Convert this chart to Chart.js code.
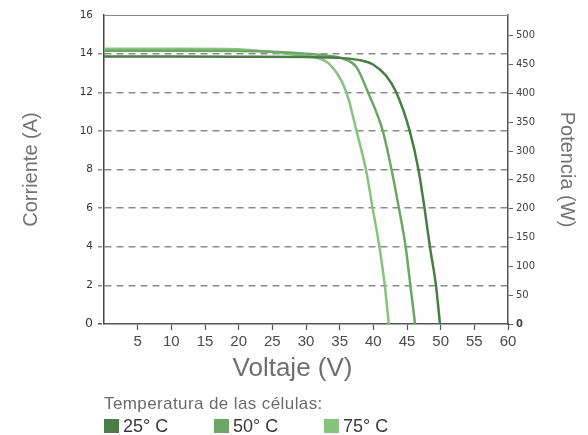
<!DOCTYPE html>
<html>
<head>
<meta charset="utf-8">
<script src="https://cdn.jsdelivr.net/npm/chart.js@4.4.1/dist/chart.umd.min.js"></script>
<style>
  html, body { margin: 0; padding: 0; background: #fff; }
  #wrap { position: relative; width: 588px; height: 435px; overflow: hidden; }
  #c { position: absolute; left: 0; top: 0; }
  #legend { position: absolute; left: 104px; top: 394px; width: 400px; font-family: "Liberation Sans", Arial, sans-serif; white-space: nowrap; }
  #legend .head { font-size: 17px; letter-spacing: 0.4px; color: #6b6b6b; line-height: 20px; }
  #legend .items { position: relative; height: 20px; margin-top: 2px; }
  #legend .item { position: absolute; top: 0; display: flex; align-items: center; font-size: 18px; color: #3a3a3a; line-height: 20px; white-space: nowrap; }
  #legend .sw { width: 15px; height: 14px; margin-right: 4px; }
</style>
</head>
<body>
<div id="wrap">
  <canvas id="c" width="588" height="435"></canvas>
  <div id="legend"></div>
</div>
<script>
// ---- data ----
const seriesLabels = ["25° C", "50° C", "75° C"];
const legendTitle = "Temperatura de las células:";
const xTitle = "Voltaje (V)";

const volt25 = [0, 10, 20, 30, 35, 38.4, 39.9, 41.9, 43.4, 45.4, 46.7, 47.6, 48.4, 49.3, 49.9];
const curr25 = [13.85, 13.85, 13.84, 13.82, 13.78, 13.63, 13.45, 12.85, 12.0, 10.0, 8.0, 6.0, 4.0, 2.0, 0];

const volt50 = [0, 10, 20, 25, 30, 33, 35.4, 37.5, 39.2, 41.4, 42.7, 43.8, 44.8, 45.5, 46.2];
const curr50 = [14.15, 14.15, 14.14, 14.1, 14.0, 13.9, 13.75, 13.3, 12.0, 10.0, 8.0, 6.0, 4.0, 2.0, 0];

const volt75 = [0, 10, 18, 22, 26, 29, 31.5, 33.5, 36, 37.5, 38.9, 39.9, 40.9, 41.7, 42.3];
const curr75 = [14.25, 14.25, 14.24, 14.18, 14.05, 13.92, 13.8, 13.45, 12.0, 10.0, 8.0, 6.0, 4.0, 2.0, 0];

const xTicks = [5, 10, 15, 20, 25, 30, 35, 40, 45, 50, 55, 60];
const leftTicks = [0, 2, 4, 6, 8, 10, 12, 14, 16];
const rightTicks = [0, 50, 100, 150, 200, 250, 300, 350, 400, 450, 500];

const colors = ["#4b7c46", "#6ea667", "#86c47e"];

// ---- build ----
function pts(v, c) { return v.map((x, i) => ({ x: x, y: c[i] })); }
const seriesData = [pts(volt25, curr25), pts(volt50, curr50), pts(volt75, curr75)];

const datasets = seriesData.map((d, i) => ({
  label: seriesLabels[i],
  data: d,
  borderColor: colors[i],
  backgroundColor: colors[i],
  borderWidth: 2.5,
  pointRadius: 0,
  fill: false,
  cubicInterpolationMode: 'monotone',
  yAxisID: 'y'
}));

const framePlugin = {
  id: 'frame',
  afterDatasetsDraw(chart) {
    const a = chart.chartArea, ctx = chart.ctx;
    ctx.save();
    ctx.strokeStyle = '#8a8a8a';
    ctx.lineWidth = 1;
    ctx.beginPath();
    ctx.moveTo(a.left, a.top + 0.5);
    ctx.lineTo(a.right, a.top + 0.5);
    ctx.stroke();
    ctx.restore();
  },
  afterDraw(chart) {
    // x axis title, centred on the canvas like the reference
    const ctx = chart.ctx;
    ctx.save();
    ctx.fillStyle = '#6f6f6f';
    ctx.font = '26px "Liberation Sans"';
    ctx.textAlign = 'center';
    ctx.textBaseline = 'middle';
    ctx.fillText(xTitle, 292.5, 369);
    ctx.restore();
  }
};

const GRID = '#8c8c8c';
const NONE = 'rgba(0,0,0,0)';

new Chart(document.getElementById('c'), {
  type: 'line',
  data: { datasets: datasets },
  plugins: [framePlugin],
  options: {
    responsive: false,
    animation: false,
    layout: { padding: { left: 0, right: 0, top: 15, bottom: 0 } },
    plugins: { legend: { display: false }, tooltip: { enabled: false } },
    scales: {
      x: {
        type: 'linear',
        min: 0, max: 60,
        afterFit(s) { s.height = 111; },
        afterBuildTicks(s) { s.ticks = xTicks.map(v => ({ value: v })); },
        ticks: { color: '#4a4a4a', padding: 3, font: { family: 'Liberation Sans', size: 15 } },
        grid: { drawOnChartArea: false, drawTicks: true, tickLength: 6, tickColor: '#555', tickWidth: 1.2 },
        border: { display: true, color: '#555', width: 1.5 },
        title: { display: false, text: xTitle }
      },
      y: {
        position: 'left',
        min: 0, max: 16,
        afterFit(s) { s.width = 104; },
        afterBuildTicks(s) { s.ticks = leftTicks.map(v => ({ value: v })); },
        ticks: {
          color: '#333', padding: 5,
          font: (ctx) => ctx.tick && ctx.tick.value === 0 ? { family: 'DejaVu Sans', size: 12.5 } : { family: 'DejaVu Sans', size: 10.5 }
        },
        grid: {
          color: (ctx) => (ctx.tick && (ctx.tick.value === 0 || ctx.tick.value === 16)) ? NONE : GRID,
          tickColor: (ctx) => (ctx.tick && ctx.tick.value === 16) ? NONE : (ctx.tick && ctx.tick.value === 0 ? '#555' : GRID),
          lineWidth: 1.5,
          tickWidth: 1.5,
          tickBorderDash: [4, 4],
          drawTicks: true, tickLength: 6
        },
        border: { display: true, color: '#444', width: 1.5, dash: [7, 5] },
        title: { display: true, text: 'Corriente (A)', color: '#737373', font: { family: 'Liberation Sans', size: 20 }, padding: { top: 19 } }
      },
      y2: {
        position: 'right',
        min: 0, max: 536,
        afterFit(s) { s.width = 80; },
        afterBuildTicks(s) { s.ticks = rightTicks.map(v => ({ value: v })); },
        ticks: {
          color: '#444', padding: 3,
          font: (ctx) => ctx.tick && ctx.tick.value === 0 ? { family: 'DejaVu Sans', size: 10, weight: 'bold' } : { family: 'DejaVu Sans', size: 10 }
        },
        grid: { drawOnChartArea: false, drawTicks: true, tickLength: 5, tickColor: '#666', tickWidth: 1 },
        border: { display: true, color: '#555', width: 1.5 },
        title: { display: true, text: 'Potencia (W)', color: '#737373', font: { family: 'Liberation Sans', size: 20 }, padding: { top: 9 } }
      }
    }
  }
});

// ---- HTML legend ----
const leg = document.getElementById('legend');
const head = document.createElement('div');
head.className = 'head';
head.textContent = legendTitle;
leg.appendChild(head);
const items = document.createElement('div');
items.className = 'items';
const offsets = [0, 110, 220];
seriesLabels.forEach((l, i) => {
  const it = document.createElement('div');
  it.className = 'item';
  it.style.left = offsets[i] + 'px';
  const sw = document.createElement('span');
  sw.className = 'sw';
  sw.style.background = colors[i];
  const tx = document.createElement('span');
  tx.textContent = l;
  it.appendChild(sw); it.appendChild(tx);
  items.appendChild(it);
});
leg.appendChild(items);
</script>
</body>
</html>
